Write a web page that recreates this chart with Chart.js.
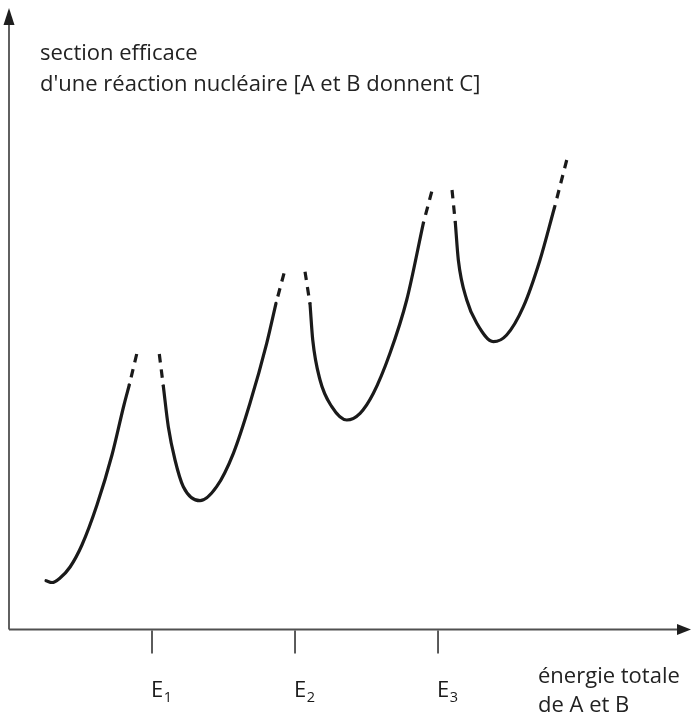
<!DOCTYPE html>
<html lang="fr">
<head>
<meta charset="utf-8">
<title>Section efficace d'une réaction nucléaire</title>
<script src="https://cdn.jsdelivr.net/npm/chart.js@4/dist/chart.umd.min.js"></script>
<style>
  html, body { margin: 0; padding: 0; background: #ffffff; }
  canvas { display: block; }
</style>
</head>
<body>
<canvas id="chart" width="691" height="717"></canvas>
<script>
// Axis extents (arbitrary units: one unit of energy between resonances)
const X_MAX = 4.769;
const Y_MAX = 6.21;

// Resonance energies marked on the energy axis
const resonanceEnergies = [1, 2, 3];
const resonanceLabels = ['1', '2', '3'];

// Axis titles
const yTitleLines = ['section efficace', "d'une réaction nucléaire [A et B donnent C]"];
const xTitleLines = ['énergie totale', 'de A et B'];

// Rising branch up to the first resonance
const branch0Energy = [0.259, 0.301, 0.357, 0.427, 0.510, 0.615, 0.720, 0.804, 0.841];
const branch0Section = [0.483, 0.465, 0.510, 0.620, 0.840, 1.240, 1.740, 2.240, 2.440];

// Between E1 and E2
const branch1Energy = [1.079, 1.114, 1.161, 1.219, 1.336, 1.452, 1.569, 1.685, 1.802, 1.867];
const branch1Section = [2.430, 2.023, 1.690, 1.423, 1.283, 1.423, 1.757, 2.257, 2.857, 3.257];

// Between E2 and E3
const branch2Energy = [2.105, 2.124, 2.175, 2.257, 2.362, 2.455, 2.548, 2.664, 2.781, 2.897];
const branch2Section = [3.250, 2.890, 2.490, 2.223, 2.090, 2.157, 2.357, 2.757, 3.290, 4.057];

// After E3
const branch3Energy = [3.121, 3.142, 3.201, 3.271, 3.387, 3.480, 3.597, 3.713, 3.813];
const branch3Section = [4.063, 3.690, 3.290, 3.057, 2.873, 2.940, 3.223, 3.690, 4.207];

// Uncertain parts near each peak, drawn dashed (listed from the peak outward)
const peakDashEnergy = [
  [0.893, 0.841],
  [1.051, 1.079],
  [1.923, 1.867],
  [2.070, 2.105],
  [2.956, 2.897],
  [3.098, 3.121],
  [3.900, 3.813]
];
const peakDashSection = [
  [2.750, 2.440],
  [2.750, 2.430],
  [3.557, 3.257],
  [3.573, 3.250],
  [4.373, 4.057],
  [4.390, 4.063],
  [4.690, 4.207]
];

const INK = '#1a1a1a';
const FONT = '"Open Sans", "Noto Sans", sans-serif';

function toPoints(xs, ys) {
  return xs.map((v, i) => ({ x: v, y: ys[i] }));
}

function solidSet(xs, ys) {
  return {
    data: toPoints(xs, ys),
    borderColor: INK,
    borderWidth: 3.2,
    cubicInterpolationMode: 'monotone',
    borderCapStyle: 'round',
    pointRadius: 0,
    fill: false
  };
}

function dashedSet(xs, ys) {
  return {
    data: toPoints(xs, ys),
    borderColor: INK,
    borderWidth: 3.2,
    tension: 0,
    borderDash: [8.5, 7],
    borderCapStyle: 'butt',
    pointRadius: 0,
    fill: false
  };
}

const datasets = [
  solidSet(branch0Energy, branch0Section),
  solidSet(branch1Energy, branch1Section),
  solidSet(branch2Energy, branch2Section),
  solidSet(branch3Energy, branch3Section)
].concat(peakDashEnergy.map((xs, i) => dashedSet(xs, peakDashSection[i])));

// Draws the two arrowed axes, the resonance ticks and all the text
const axesPlugin = {
  id: 'arrowAxes',
  beforeDatasetsDraw(chart) {
    const { ctx, scales } = chart;
    const xs = scales.x, ys = scales.y;
    const x0 = xs.getPixelForValue(0);
    const y0 = ys.getPixelForValue(0) + 0.5;
    const xEnd = xs.getPixelForValue(X_MAX);
    const yEnd = ys.getPixelForValue(Y_MAX);

    ctx.save();
    // axis lines
    ctx.strokeStyle = '#505050';
    ctx.lineWidth = 1.8;
    ctx.beginPath();
    ctx.moveTo(x0, y0);
    ctx.lineTo(x0, yEnd + 12);
    ctx.moveTo(x0, y0);
    ctx.lineTo(xEnd - 10, y0);
    ctx.stroke();

    // arrowheads
    ctx.fillStyle = '#1e1e1e';
    ctx.beginPath();
    ctx.moveTo(x0, yEnd);
    ctx.lineTo(x0 - 5.5, yEnd + 17);
    ctx.lineTo(x0 + 5.5, yEnd + 17);
    ctx.closePath();
    ctx.fill();
    ctx.beginPath();
    ctx.moveTo(xEnd, y0);
    ctx.lineTo(xEnd - 14, y0 - 5.5);
    ctx.lineTo(xEnd - 14, y0 + 5.5);
    ctx.closePath();
    ctx.fill();

    // resonance ticks and labels
    ctx.strokeStyle = '#333333';
    ctx.lineWidth = 1.6;
    ctx.fillStyle = INK;
    ctx.textBaseline = 'alphabetic';
    ctx.textAlign = 'left';
    resonanceEnergies.forEach((e, i) => {
      const px = xs.getPixelForValue(e);
      ctx.beginPath();
      ctx.moveTo(px, y0 + 1);
      ctx.lineTo(px, y0 + 24);
      ctx.stroke();
      ctx.font = '22px ' + FONT;
      const lx = px - 1;
      ctx.fillText('E', lx, y0 + 67.5);
      const w = ctx.measureText('E').width;
      ctx.font = '14.5px ' + FONT;
      ctx.fillText(resonanceLabels[i], lx + w + 0.5, y0 + 72.5);
    });

    // axis titles
    ctx.font = '22px ' + FONT;
    ctx.fillStyle = '#222222';
    ctx.fillText(yTitleLines[0], x0 + 31, 60);
    ctx.fillText(yTitleLines[1], x0 + 31, 91);
    const tx = xEnd - 153;
    ctx.fillText(xTitleLines[0], tx, y0 + 53.5);
    ctx.fillText(xTitleLines[1], tx, y0 + 82);
    ctx.restore();
  }
};

new Chart(document.getElementById('chart'), {
  type: 'line',
  data: { datasets },
  options: {
    responsive: false,
    devicePixelRatio: 1,
    animation: false,
    layout: { padding: { left: 9, top: 8, right: 0, bottom: 88 } },
    scales: {
      x: { type: 'linear', min: 0, max: X_MAX, display: false },
      y: { type: 'linear', min: 0, max: Y_MAX, display: false }
    },
    plugins: {
      legend: { display: false },
      tooltip: { enabled: false }
    },
    elements: { point: { radius: 0 } }
  },
  plugins: [axesPlugin]
});
</script>
</body>
</html>
